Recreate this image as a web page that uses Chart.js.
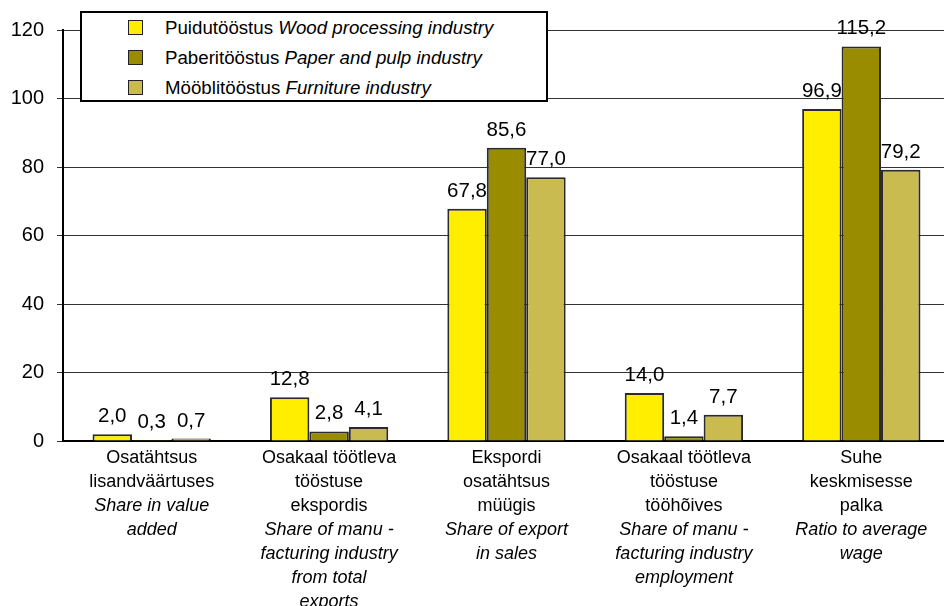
<!DOCTYPE html>
<html>
<head>
<meta charset="utf-8">
<script src="https://cdn.jsdelivr.net/npm/chart.js@4/dist/chart.umd.min.js"></script>
<style>
  html, body { margin: 0; padding: 0; background: #fff; overflow: hidden; }
  #wrap { position: relative; width: 944px; height: 606px; overflow: hidden; }
  #legend {
    position: absolute; left: 80px; top: 11px; width: 464px; height: 87px;
    border: 2px solid #000; background: #fff;
    font-family: "Liberation Sans", Arial, sans-serif; font-size: 18.7px; color: #000;
  }
  #legend div { position: absolute; left: 46px; height: 22px; line-height: 22px; white-space: nowrap; }
  #legend span.box {
    display: inline-block; width: 13px; height: 13px; border: 1.5px solid #222;
    vertical-align: -1px; margin-right: 22px;
  }
</style>
</head>
<body>
<div id="wrap">
  <canvas id="chart" width="950" height="606" style="width:950px;height:606px"></canvas>
  <div id="legend"></div>
</div>
<script>
// categories (Estonian lines, English lines)
var catEt = [
  ["Osatähtsus", "lisandväärtuses"],
  ["Osakaal töötleva", "tööstuse", "ekspordis"],
  ["Ekspordi", "osatähtsus", "müügis"],
  ["Osakaal töötleva", "tööstuse", "tööhõives"],
  ["Suhe", "keskmisesse", "palka"]
];
var catEn = [
  ["Share in value", "added"],
  ["Share of manu -", "facturing industry", "from total", "exports"],
  ["Share of export", "in sales"],
  ["Share of manu -", "facturing industry", "employment"],
  ["Ratio to average", "wage"]
];

var seriesEt = ["Puidutööstus", "Paberitööstus", "Mööblitööstus"];
var seriesEn = ["Wood processing industry", "Paper and pulp industry", "Furniture industry"];
var colors = ["#FFEE00", "#998C00", "#C9BB4F"];

var wood = [2.0, 12.8, 67.8, 14.0, 96.9];
var paper = [0.3, 2.8, 85.6, 1.4, 115.2];
var furniture = [0.7, 4.1, 77.0, 7.7, 79.2];

var yTicks = [0, 20, 40, 60, 80, 100, 120];

var font = '"Liberation Sans", Arial, sans-serif';

// legend
var leg = document.getElementById("legend");
for (var i = 0; i < seriesEt.length; i++) {
  var row = document.createElement("div");
  row.style.top = (4 + i * 30) + "px";
  row.innerHTML = '<span class="box" style="background:' + colors[i] + '"></span>' +
    seriesEt[i] + ' <i>' + seriesEn[i] + '</i>';
  leg.appendChild(row);
}

var valueLabels = {
  id: "valueLabels",
  afterDatasetsDraw: function (chart) {
    var ctx = chart.ctx;
    ctx.save();
    ctx.fillStyle = "#000";
    ctx.font = "20.5px " + font;
    ctx.textAlign = "center";
    ctx.textBaseline = "alphabetic";
    chart.data.datasets.forEach(function (ds, di) {
      chart.getDatasetMeta(di).data.forEach(function (bar, j) {
        ctx.fillText(ds.data[j].toFixed(1).replace(".", ","), bar.x, bar.y - 12);
      });
    });
    ctx.restore();
  }
};

var catLabels = {
  id: "catLabels",
  afterDraw: function (chart) {
    var ctx = chart.ctx;
    var xs = chart.scales.x;
    var top = chart.chartArea.bottom + 17;
    ctx.save();
    ctx.fillStyle = "#000";
    ctx.textAlign = "center";
    ctx.textBaseline = "middle";
    for (var i = 0; i < catEt.length; i++) {
      var x = xs.getPixelForTick(i);
      var y = top;
      ctx.font = "18px " + font;
      catEt[i].forEach(function (l) { ctx.fillText(l, x, y); y += 24; });
      ctx.font = "italic 18px " + font;
      catEn[i].forEach(function (l) { ctx.fillText(l, x, y); y += 24; });
    }
    ctx.restore();
  }
};

var ctx = document.getElementById("chart").getContext("2d");
var myChart = new Chart(ctx, {
  type: "bar",
  data: {
    labels: catEt.map(function (c) { return c.join(" "); }),
    datasets: [
      { label: seriesEt[0], data: wood, backgroundColor: colors[0] },
      { label: seriesEt[1], data: paper, backgroundColor: colors[1] },
      { label: seriesEt[2], data: furniture, backgroundColor: colors[2] }
    ]
  },
  options: {
    responsive: false,
    animation: false,
    layout: { padding: { top: 30, left: 0, right: 0, bottom: 0 } },
    datasets: {
      bar: {
        borderColor: "#2a2a2a",
        borderWidth: 2,
        borderSkipped: "bottom",
        barPercentage: 1,
        categoryPercentage: 0.667
      }
    },
    plugins: {
      legend: { display: false },
      tooltip: { enabled: false }
    },
    scales: {
      x: {
        grid: { display: false },
        border: { display: true, color: "#000", width: 2 },
        ticks: { display: false },
        afterFit: function (s) { s.height = 165; }
      },
      y: {
        min: 0,
        max: 120,
        afterBuildTicks: function (s) { s.ticks = yTicks.map(function (v) { return { value: v }; }); },
        grid: { color: "#333", lineWidth: 1, tickLength: 6, drawTicks: true },
        border: { display: true, color: "#000", width: 2 },
        ticks: { color: "#000", font: { family: font, size: 20 }, padding: 13 },
        afterFit: function (s) { s.width = 63; }
      }
    }
  },
  plugins: [valueLabels, catLabels]
});
</script>
</body>
</html>
